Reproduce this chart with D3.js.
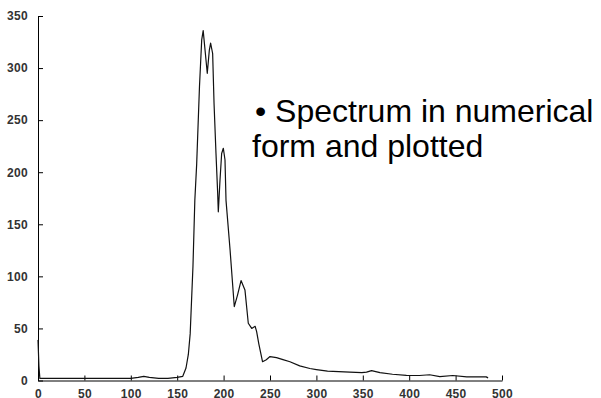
<!DOCTYPE html>
<html>
<head>
<meta charset="utf-8">
<script src="https://cdn.jsdelivr.net/npm/d3@7"></script>
<style>
  body { margin: 0; background: #fff; }
  svg { display: block; }
</style>
</head>
<body>
<div id="chart"></div>
<script>
// spectrum (channel, counts)
var channel = [0, 1, 2, 10, 50, 100, 108, 114, 120, 130, 140, 150, 156, 159.5, 162, 164, 167, 169, 171, 174,
    176.4, 178, 181, 182.4, 184.6, 186, 188.2, 189.7, 191.8, 193.6, 194.3, 196.1, 197.9, 199.7, 201.5, 202.6,
    207, 211.5, 215, 218.8, 223, 226.6, 230.3, 234, 235.6, 238, 242, 246, 250, 257, 264, 271.5, 282, 293,
    300, 312, 324, 336, 349, 354, 359.5, 368.5, 382, 397, 411, 422, 433, 447, 462, 472, 483, 485];
var counts = [39, 14, 2, 2, 2, 2, 3, 4, 3, 2, 2, 3, 4, 12, 25, 45, 110, 173, 208, 282,
    327, 336, 308, 295, 317, 324, 314, 266, 218, 180, 162, 192, 218, 223, 212, 173,
    125, 71, 82, 96, 87, 55, 50, 52, 47, 35, 18, 20, 23, 22, 20, 18, 14, 11.5,
    10.5, 9, 8.5, 8, 7.5, 8, 9.5, 7.5, 6, 5, 4.8, 5.5, 3.8, 4.8, 3.5, 3.5, 3.5, 2.5];
var xTicks = [0, 50, 100, 150, 200, 250, 300, 350, 400, 450, 500];
var yTicks = [0, 50, 100, 150, 200, 250, 300, 350];
var noteLines = ["\u2022 Spectrum in numerical", "form and plotted"];

var W = 601, H = 398;
var x0 = 38, x1 = 502, yTop = 16, yBot = 380.5;

var svg = d3.select("#chart")
    .append("svg")
    .attr("width", W)
    .attr("height", H);

var x = d3.scaleLinear().domain([0, 500]).range([x0, x1]);
var y = d3.scaleLinear().domain([0, 350]).range([yBot, yTop]);

// x axis, ticks pointing up into the plot
var gx = svg.append("g")
    .attr("transform", "translate(0," + yBot + ")")
    .call(d3.axisBottom(x).tickValues(xTicks).tickSizeInner(-5).tickSizeOuter(0).tickPadding(9));

// y axis, ticks pointing right
var gy = svg.append("g")
    .attr("transform", "translate(" + x0 + ",0)")
    .call(d3.axisLeft(y).tickValues(yTicks).tickSizeInner(-5).tickSizeOuter(0).tickPadding(10));

[gx, gy].forEach(function (g) {
    g.selectAll("path.domain").attr("stroke", "#000").attr("stroke-width", 1);
    g.selectAll(".tick line").attr("stroke", "#000");
    g.selectAll(".tick text")
        .attr("fill", "#333")
        .style("font-family", "Arial, 'Liberation Sans', sans-serif")
        .style("font-size", "12px")
        .style("font-weight", "bold")
        .style("letter-spacing", "0.3px");
});

var line = d3.line()
    .x(function (d, i) { return x(channel[i]); })
    .y(function (d) { return y(d); });

svg.append("path")
    .datum(counts)
    .attr("d", line)
    .attr("fill", "none")
    .attr("stroke", "#111")
    .attr("stroke-width", 1.2)
    .attr("stroke-linejoin", "round");

svg.selectAll("text.note")
    .data(noteLines)
    .enter()
    .append("text")
    .attr("class", "note")
    .attr("x", function (d, i) { return i === 0 ? 255 : 252; })
    .attr("y", function (d, i) { return 122 + i * 35; })
    .style("font-family", "Arial, 'Liberation Sans', sans-serif")
    .style("font-size", "32px")
    .attr("fill", "#000")
    .text(function (d) { return d; });
</script>
</body>
</html>
